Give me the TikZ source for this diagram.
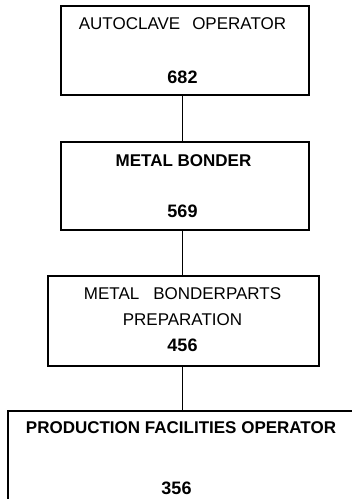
\documentclass[tikz,border=0pt]{standalone}
\usepackage{fontspec}
\setmainfont{Liberation Sans}
\tikzset{
  box/.style={draw, rectangle, inner sep=0pt},
  title/.style={anchor=base, inner sep=0pt, font=\fontsize{17}{20}\selectfont},
  code/.style={anchor=base, inner sep=0pt, font=\fontsize{18}{20}\selectfont\bfseries},
}
\begin{document}
\begin{tikzpicture}[x=1pt, y=-1pt]
  \useasboundingbox (0,0) rectangle (352,499);
  \node[box, line width=2pt, minimum width=248pt, minimum height=89pt] (autoclave) at (185,50.5) {};
  \node[box, line width=1.2pt, minimum width=248pt, minimum height=88pt] (bonder) at (185,186) {};
  \node[box, line width=1.8pt, minimum width=271pt, minimum height=90pt] (prep) at (183.5,321) {};
  \node[box, line width=1.3pt, minimum width=348pt, minimum height=109pt] (facilities) at (182,465.5) {};
  \node[title] (autoclave-title) at (182.5,29) {AUTOCLAVE\hspace{12pt}OPERATOR};
  \node[code] (autoclave-code) at (182.5,83) {682};
  \node[title, font=\fontsize{17}{20}\selectfont\bfseries] (bonder-title) at (183.5,166) {METAL BONDER};
  \node[code] (bonder-code) at (182.5,217) {569};
  \node[title] (prep-title) at (182.5,299) {METAL\hspace{14pt}BONDERPARTS};
  \node[title] (prep-title2) at (182.5,325) {PREPARATION};
  \node[code] (prep-code) at (182.5,351) {456};
  \node[title, font=\fontsize{17}{20}\selectfont\bfseries] (facilities-title) at (181,433) {PRODUCTION FACILITIES OPERATOR};
  \node[code] (facilities-code) at (176.5,494) {356};
  \begin{scope}[line width=1.5pt]
    \draw (autoclave.south -| autoclave-code) -- (bonder.north -| autoclave-code);
    \draw (bonder.south -| bonder-code) -- (prep.north -| bonder-code);
    \draw (prep.south -| prep-code) -- (facilities.north -| prep-code);
  \end{scope}
\end{tikzpicture}
\end{document}
